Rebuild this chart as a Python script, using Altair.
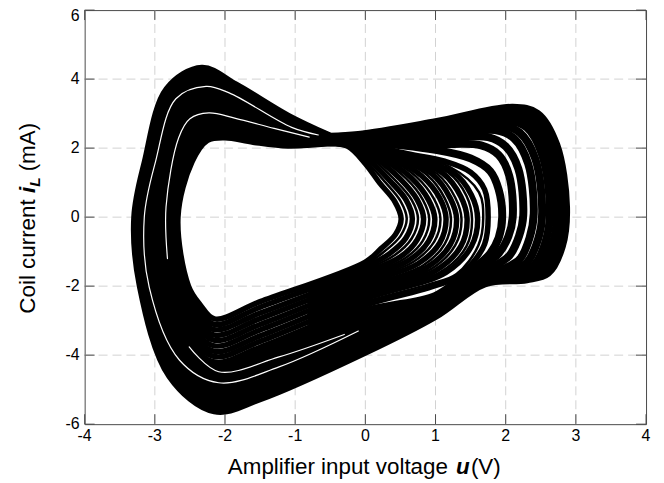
import altair as alt
import pandas as pd

# ---------------- axis ticks and labels ----------------
X_TICKS = [-4, -3, -2, -1, 0, 1, 2, 3, 4]
X_LABELS = ["-4", "-3", "-2", "-1", "0", "1", "2", "3", "4"]
Y_TICKS = [-6, -4, -2, 0, 2, 4, 6]
Y_LABELS = ["-6", "-4", "-2", "0", "2", "4", "6"]
X_GRID = [-3, -2, -1, 0, 1, 2, 3]
Y_GRID = [-4, -2, 0, 2, 4]

# ---------------- attractor loops (u [V], i_L [mA]) ----------------
# inner family: small right lobes
I0 = [(-0.5, 2.13), (-0.25, 2.05), (0.0, 1.55), (0.2, 1.0), (0.42, 0.45), (0.51, -0.05), (0.43, -0.5), (0.22, -0.92),
      (0.0, -1.30), (-1.5, -2.45), (-2.15, -2.95), (-2.35, -2.55), (-2.52, -2.0), (-2.67, 0.0), (-2.47, 1.6),
      (-2.25, 2.22), (-2.0, 2.30), (-1.6, 2.17), (-1.1, 2.06), (-0.5, 2.13)]
I1 = [(-0.5, 2.14), (-0.25, 2.07), (0.05, 1.65), (0.35, 1.05), (0.58, 0.5), (0.67, -0.05), (0.58, -0.6), (0.35, -1.05),
      (0.0, -1.45), (-1.5, -2.61), (-2.15, -3.11), (-2.38, -2.67), (-2.56, -2.0), (-2.71, 0.0), (-2.51, 1.6),
      (-2.28, 2.31), (-2.02, 2.42), (-1.61, 2.27), (-1.1, 2.11), (-0.5, 2.14)]
I2 = [(-0.5, 2.15), (-0.2, 2.08), (0.15, 1.7), (0.5, 1.1), (0.74, 0.5), (0.83, -0.05), (0.74, -0.65), (0.5, -1.15),
      (0.0, -1.61), (-1.5, -2.78), (-2.15, -3.26), (-2.40, -2.79), (-2.60, -2.0), (-2.74, 0.0), (-2.55, 1.6),
      (-2.32, 2.39), (-2.04, 2.54), (-1.63, 2.36), (-1.1, 2.16), (-0.5, 2.15)]
I3 = [(-0.5, 2.17), (-0.2, 2.1), (0.25, 1.72), (0.65, 1.15), (0.9, 0.5), (0.99, -0.05), (0.9, -0.7), (0.62, -1.25),
      (0.0, -1.76), (-1.5, -2.94), (-2.15, -3.42), (-2.43, -2.91), (-2.64, -2.0), (-2.78, 0.0), (-2.59, 1.6),
      (-2.35, 2.48), (-2.06, 2.65), (-1.64, 2.46), (-1.1, 2.21), (-0.5, 2.17)]
I4 = [(-0.5, 2.18), (-0.15, 2.12), (0.35, 1.75), (0.8, 1.2), (1.06, 0.55), (1.15, -0.05), (1.06, -0.75), (0.75, -1.35),
      (0.0, -1.91), (-1.5, -3.11), (-2.15, -3.57), (-2.45, -3.03), (-2.68, -2.0), (-2.81, 0.0), (-2.63, 1.6),
      (-2.38, 2.57), (-2.08, 2.77), (-1.66, 2.56), (-1.1, 2.26), (-0.5, 2.18)]
I5 = [(-0.5, 2.19), (-0.15, 2.13), (0.45, 1.75), (0.95, 1.25), (1.21, 0.55), (1.3, -0.05), (1.21, -0.8), (0.88, -1.45),
      (0.0, -2.06), (-1.5, -3.27), (-2.15, -3.73), (-2.48, -3.15), (-2.72, -2.0), (-2.85, 0.0), (-2.66, 1.6),
      (-2.42, 2.66), (-2.10, 2.89), (-1.67, 2.66), (-1.1, 2.31), (-0.5, 2.19)]
I6 = [(-0.5, 2.20), (-0.1, 2.14), (0.55, 1.75), (1.1, 1.28), (1.36, 0.6), (1.45, -0.05), (1.36, -0.85), (1.0, -1.55),
      (0.0, -2.22), (-1.5, -3.44), (-2.15, -3.89), (-2.50, -3.27), (-2.76, -2.0), (-2.89, 0.0), (-2.70, 1.6),
      (-2.45, 2.74), (-2.12, 3.01), (-1.69, 2.75), (-1.1, 2.36), (-0.5, 2.20)]
I7 = [(-0.5, 2.21), (-0.1, 2.15), (0.6, 1.75), (1.25, 1.3), (1.51, 0.65), (1.6, -0.05), (1.51, -0.85), (1.15, -1.6),
      (0.0, -2.37), (-1.5, -3.60), (-2.15, -4.04), (-2.53, -3.39), (-2.80, -2.0), (-2.92, 0.0), (-2.74, 1.6),
      (-2.48, 2.83), (-2.14, 3.12), (-1.70, 2.85), (-1.1, 2.41), (-0.5, 2.21)]
I8 = [(-0.5, 2.22), (-0.1, 2.16), (0.6, 1.84), (1.13, 1.62), (1.5, 1.3), (1.7, 0.8), (1.75, 0.0), (1.7, -0.78),
      (1.55, -1.27), (1.28, -1.76), (0.9, -2.05), (0.0, -2.55), (-1.5, -3.77), (-2.15, -4.20), (-2.55, -3.51),
      (-2.84, -2.0), (-2.96, 0.0), (-2.78, 1.6), (-2.52, 2.92), (-2.16, 3.24), (-1.72, 2.95), (-1.1, 2.46), (-0.5, 2.22)]

# thinner strands of the inner lobes (neck -> lobe -> lower band)
J0 = [(-0.5, 2.13), (-0.25, 2.06), (0.02, 1.6), (0.28, 1.02), (0.5, 0.47), (0.59, -0.05), (0.5, -0.55), (0.28, -0.98),
      (0.0, -1.38), (-0.8, -1.99)]
J1 = [(-0.5, 2.14), (-0.22, 2.08), (0.1, 1.68), (0.42, 1.08), (0.66, 0.5), (0.75, -0.05), (0.66, -0.62), (0.42, -1.1),
      (0.0, -1.53), (-0.8, -2.16)]
J2 = [(-0.5, 2.16), (-0.2, 2.09), (0.2, 1.71), (0.58, 1.12), (0.82, 0.5), (0.91, -0.05), (0.82, -0.68), (0.56, -1.2),
      (0.0, -1.69), (-0.8, -2.32)]
J3 = [(-0.5, 2.17), (-0.18, 2.11), (0.3, 1.73), (0.72, 1.18), (0.98, 0.52), (1.07, -0.05), (0.98, -0.72), (0.68, -1.3),
      (0.0, -1.84), (-0.8, -2.48)]
J4 = [(-0.5, 2.18), (-0.15, 2.12), (0.4, 1.75), (0.88, 1.22), (1.13, 0.55), (1.22, -0.05), (1.13, -0.78), (0.82, -1.4),
      (0.0, -1.99), (-0.8, -2.63)]
J5 = [(-0.5, 2.19), (-0.12, 2.13), (0.5, 1.75), (1.02, 1.26), (1.28, 0.57), (1.37, -0.05), (1.28, -0.82), (0.94, -1.5),
      (0.0, -2.14), (-0.8, -2.79)]
J6 = [(-0.5, 2.20), (-0.1, 2.14), (0.58, 1.75), (1.18, 1.29), (1.44, 0.62), (1.52, -0.05), (1.44, -0.85), (1.08, -1.58),
      (0.0, -2.30), (-0.8, -2.95)]
J7 = [(-0.5, 2.21), (-0.1, 2.15), (0.6, 1.8), (1.2, 1.46), (1.62, 0.72), (1.68, -0.03), (1.61, -0.82), (1.3, -1.65),
      (0.9, -1.95), (0.0, -2.46), (-0.8, -3.1)]

# outer family: large right lobes
O0 = [(-0.5, 2.24), (-0.1, 2.2), (1.0, 1.95), (1.5, 1.7), (1.78, 1.33), (1.9, 0.8), (1.95, 0.0), (1.9, -0.6),
      (1.78, -1.05), (1.6, -1.4), (1.4, -1.7), (1.0, -2.28), (0.0, -2.73), (-1.5, -3.93), (-2.15, -4.35),
      (-2.58, -3.64), (-2.88, -2.0), (-2.99, 0.0), (-2.82, 1.6), (-2.55, 3.00), (-2.17, 3.36), (-1.73, 3.04),
      (-1.1, 2.51), (-0.5, 2.24)]
O1 = [(-0.5, 2.25), (-0.1, 2.23), (1.0, 2.12), (1.65, 2.08), (1.9, 1.8), (2.05, 1.2), (2.1, 0.0), (2.04, -0.55),
      (1.9, -1.05), (1.72, -1.35), (1.45, -1.7), (1.0, -2.36), (0.0, -2.88), (-1.5, -4.10), (-2.15, -4.51),
      (-2.60, -3.76), (-2.92, -2.0), (-3.03, 0.0), (-2.86, 1.6), (-2.59, 3.09), (-2.19, 3.48), (-1.75, 3.14),
      (-1.1, 2.56), (-0.5, 2.25)]
O2 = [(-0.5, 2.26), (-0.1, 2.26), (1.0, 2.27), (1.75, 2.32), (2.0, 2.05), (2.18, 1.4), (2.25, 0.05), (2.19, -0.55),
      (2.05, -1.12), (1.85, -1.4), (1.55, -1.7), (1.0, -2.45), (0.0, -3.04), (-1.5, -4.26), (-2.15, -4.66),
      (-2.63, -3.88), (-2.96, -2.0), (-3.06, 0.0), (-2.90, 1.6), (-2.62, 3.18), (-2.21, 3.59), (-1.76, 3.24),
      (-1.1, 2.61), (-0.5, 2.26)]
O3 = [(-0.5, 2.27), (-0.1, 2.28), (1.0, 2.37), (1.85, 2.52), (2.12, 2.28), (2.32, 1.55), (2.4, 0.1), (2.34, -0.6),
      (2.2, -1.22), (2.0, -1.47), (1.6, -1.72), (1.0, -2.52), (0.0, -3.18), (-1.5, -4.43), (-2.15, -4.82),
      (-2.65, -4.00), (-3.00, -2.0), (-3.10, 0.0), (-2.94, 1.6), (-2.65, 3.27), (-2.23, 3.71), (-1.78, 3.34),
      (-1.1, 2.66), (-0.5, 2.27)]
O4 = [(-0.5, 2.28), (-0.1, 2.3), (1.0, 2.46), (1.9, 2.68), (2.2, 2.45), (2.42, 1.7), (2.52, 0.15), (2.46, -0.65),
      (2.3, -1.32), (2.08, -1.55), (1.64, -1.75), (1.0, -2.60), (0.0, -3.33), (-1.5, -4.59), (-2.15, -4.98),
      (-2.68, -4.12), (-3.04, -2.0), (-3.14, 0.0), (-2.98, 1.6), (-2.69, 3.35), (-2.25, 3.83), (-1.79, 3.43),
      (-1.1, 2.71), (-0.5, 2.28)]
O5 = [(-0.5, 2.29), (-0.1, 2.32), (1.0, 2.55), (1.95, 2.82), (2.3, 2.6), (2.52, 1.8), (2.63, 0.2), (2.57, -0.7),
      (2.4, -1.4), (2.15, -1.63), (1.66, -1.8), (1.0, -2.67), (0.0, -3.47), (-1.5, -4.76), (-2.15, -5.13),
      (-2.70, -4.24), (-3.08, -2.0), (-3.17, 0.0), (-3.02, 1.6), (-2.72, 3.44), (-2.27, 3.95), (-1.81, 3.53),
      (-1.1, 2.76), (-0.5, 2.29)]
O6 = [(-0.5, 2.31), (-0.1, 2.34), (1.0, 2.63), (2.0, 2.95), (2.35, 2.75), (2.6, 1.9), (2.73, 0.25), (2.67, -0.75),
      (2.48, -1.48), (2.2, -1.7), (1.68, -1.84), (1.0, -2.74), (0.0, -3.60), (-1.5, -4.92), (-2.15, -5.29),
      (-2.73, -4.36), (-3.12, -2.0), (-3.21, 0.0), (-3.05, 1.6), (-2.75, 3.53), (-2.29, 4.06), (-1.82, 3.63),
      (-1.1, 2.81), (-0.5, 2.31)]
O7 = [(-0.5, 2.32), (-0.1, 2.36), (1.0, 2.7), (2.05, 3.08), (2.4, 2.9), (2.67, 2.0), (2.81, 0.3), (2.75, -0.8),
      (2.55, -1.55), (2.25, -1.75), (1.7, -1.88), (1.0, -2.80), (0.0, -3.75), (-1.5, -5.09), (-2.15, -5.44),
      (-2.75, -4.48), (-3.16, -2.0), (-3.24, 0.0), (-3.09, 1.6), (-2.79, 3.61), (-2.31, 4.18), (-1.84, 3.72),
      (-1.1, 2.86), (-0.5, 2.32)]
O8 = [(-0.5, 2.33), (-0.1, 2.38), (1.0, 2.75), (2.1, 3.17), (2.45, 3.0), (2.72, 2.1), (2.86, 0.3), (2.8, -0.85),
      (2.6, -1.62), (2.3, -1.8), (1.7, -1.92), (1.0, -2.86), (0.0, -3.90), (-1.5, -5.25), (-2.15, -5.60),
      (-2.78, -4.60), (-3.20, -2.0), (-3.28, 0.0), (-3.13, 1.6), (-2.82, 3.70), (-2.33, 4.30), (-1.85, 3.82),
      (-1.1, 2.91), (-0.5, 2.33)]

# thin white gaps seen between trajectories inside the dark band
S1 = [(-0.1, -3.3), (-1.23, -4.34), (-2.09, -4.8), (-2.65, -4.14), (-3.08, -2.03), (-3.15, 0.0), (-2.99, 1.61),
      (-2.7, 3.43), (-2.27, 3.79), (-1.94, 3.6), (-1.05, 2.6), (-0.67, 2.38)]
S2 = [(-2.82, -1.2), (-2.84, 0.3), (-2.66, 2.3), (-2.5, 2.85), (-2.23, 3.02), (-1.85, 2.86), (-1.3, 2.57),
      (-0.8, 2.32)]
S3 = [(-2.51, -3.76), (-2.09, -4.48), (-1.23, -4.05), (-0.3, -3.4)]

INNER = {"I0": I0, "I1": I1, "I2": I2, "I3": I3, "I4": I4, "I5": I5, "I6": I6, "I7": I7, "I8": I8}
STRANDS = {"J0": J0, "J1": J1, "J2": J2, "J3": J3, "J4": J4, "J5": J5, "J6": J6, "J7": J7}
OUTER = {"O0": O0, "O1": O1, "O2": O2, "O3": O3, "O4": O4, "O5": O5, "O6": O6, "O7": O7, "O8": O8}
GAPS = {"S1": S1, "S2": S2, "S3": S3}


def to_frame(loops):
    rows = []
    for name, pts in loops.items():
        for k, (u, i) in enumerate(pts):
            rows.append({"loop": name, "idx": k, "u": u, "i": i})
    return pd.DataFrame(rows)


W, H = 564, 416
FONT = "Liberation Sans"
FRAME = "#4a4a4a"

xs = alt.Scale(domain=[-4, 4], nice=False, zero=False)
ys = alt.Scale(domain=[-6, 6], nice=False, zero=False)


def curves(loops, width, color="black"):
    return alt.Chart(to_frame(loops)).mark_line(
        interpolate="catmull-rom", color=color, strokeWidth=width, strokeCap="round", strokeJoin="round"
    ).encode(
        x=alt.X("u:Q", scale=xs, axis=None),
        y=alt.Y("i:Q", scale=ys, axis=None),
        detail="loop:N",
        order="idx:Q",
    )


grid_style = dict(color="#d2d2d2", strokeWidth=1, strokeDash=[9, 5])
grid_x = alt.Chart(pd.DataFrame({"t": X_GRID})).mark_rule(**grid_style).encode(
    x=alt.X("t:Q", scale=xs, axis=None), y=alt.value(0), y2=alt.value(H))
grid_y = alt.Chart(pd.DataFrame({"t": Y_GRID})).mark_rule(**grid_style).encode(
    y=alt.Y("t:Q", scale=ys, axis=None), x=alt.value(0), x2=alt.value(W))

xt = pd.DataFrame({"t": X_TICKS, "lab": X_LABELS})
yt = pd.DataFrame({"t": Y_TICKS, "lab": Y_LABELS})
tick_style = dict(color=FRAME, strokeWidth=1)
t_bottom = alt.Chart(xt).mark_rule(**tick_style).encode(
    x=alt.X("t:Q", scale=xs, axis=None), y=alt.value(H), y2=alt.value(H - 10))
t_top = alt.Chart(xt).mark_rule(**tick_style).encode(
    x=alt.X("t:Q", scale=xs, axis=None), y=alt.value(0), y2=alt.value(10))
t_left = alt.Chart(yt).mark_rule(**tick_style).encode(
    y=alt.Y("t:Q", scale=ys, axis=None), x=alt.value(0), x2=alt.value(10))
t_right = alt.Chart(yt).mark_rule(**tick_style).encode(
    y=alt.Y("t:Q", scale=ys, axis=None), x=alt.value(W), x2=alt.value(W - 10))

x_labels = alt.Chart(xt).mark_text(font=FONT, fontSize=16, color="black", align="center", baseline="top").encode(
    x=alt.X("t:Q", scale=xs, axis=None), y=alt.value(H + 4), text="lab:N")
# the top label sits at the page edge, so it is nudged down to stay visible
y_labels = alt.Chart(yt).transform_filter("datum.t < 6").mark_text(
    font=FONT, fontSize=16, color="black", align="right", baseline="middle").encode(
    y=alt.Y("t:Q", scale=ys, axis=None), x=alt.value(-5), text="lab:N")
y_label_top = alt.Chart(yt).transform_filter("datum.t == 6").mark_text(
    font=FONT, fontSize=16, color="black", align="right", baseline="middle").encode(
    y=alt.value(6), x=alt.value(-5), text="lab:N")

dummy = pd.DataFrame({"k": [0]})


def label(text, x, y, angle=0, size=22.5, bold=False, italic=False, align="left"):
    kw = dict(text=text, font=FONT, fontSize=size, color="black", align=align, baseline="alphabetic")
    if angle:
        kw["angle"] = angle
    if bold:
        kw["fontWeight"] = "bold"
    if italic:
        kw["fontStyle"] = "italic"
    return alt.Chart(dummy).mark_text(**kw).encode(x=alt.value(x), y=alt.value(y))


x_title = [
    label("Amplifier input voltage", 365, 466, align="right"),
    label("u", 373, 466, bold=True, italic=True),
    label("(V)", 418, 466, align="right"),
]
y_title = [
    label("Coil current", -50, 305, angle=270),
    label("i", -50, 183.7, angle=270, bold=True, italic=True),
    label("L", -45, 177.4, angle=270, size=15.5, bold=True, italic=True),
    label("(mA)", -50, 162, angle=270),
]

chart = alt.layer(
    grid_x, grid_y,
    curves(INNER, 5.5), curves(STRANDS, 2.5), curves(OUTER, 8), curves(GAPS, 1.2, "white"),
    t_bottom, t_top, t_left, t_right, x_labels, y_labels, y_label_top,
    *x_title, *y_title
).properties(
    width=W, height=H,
    autosize=alt.AutoSizeParams(type="none"),
    padding={"left": 77, "top": 1, "right": 10, "bottom": 56},
).configure_view(
    stroke=FRAME, strokeWidth=1
)

chart.save("out.html", embed_options={"renderer": "svg", "actions": False})
